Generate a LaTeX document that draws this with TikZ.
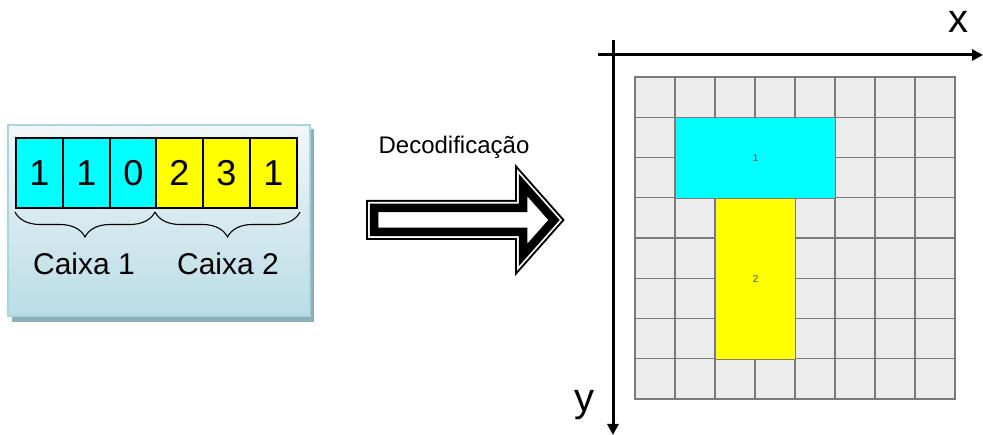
\documentclass[tikz,border=0pt]{standalone}
\usepackage{fontspec}
\setmainfont{Liberation Sans}
\usetikzlibrary{decorations.pathreplacing,arrows.meta}
\definecolor{boxtop}{HTML}{F2F6F8}
\definecolor{boxbot}{HTML}{BADDE6}
\definecolor{boxedge}{HTML}{A6D6E2}
\definecolor{boxshadow}{HTML}{8FADB6}
\definecolor{cyanc}{HTML}{00FFFF}
\definecolor{yellowc}{HTML}{FFFF00}
\definecolor{gridfill}{HTML}{ECECEC}
\definecolor{gridline}{HTML}{7A7A7A}
\tikzset{
  cell/.style={draw=black, line width=1.6pt, minimum width=47pt, minimum height=70pt, inner sep=0pt, anchor=north west, font=\fontsize{36}{36}\selectfont},
  caplabel/.style={font=\fontsize{30}{30}\selectfont, inner sep=0pt},
  gcell/.style={draw=gridline, line width=1.2pt},
  region/.style={draw=gridline, line width=1.2pt, inner sep=0pt, anchor=north west, font=\fontsize{10}{10}\selectfont, text=black!70},
  axis/.style={line width=3pt, -{Triangle[length=11pt,width=11pt]}},
  bracestyle/.style={decorate, decoration={brace, amplitude=25pt, mirror}, line width=1.1pt},
}
\begin{document}
\begin{tikzpicture}[x=1pt,y=-1pt]
\useasboundingbox (0,0) rectangle (983,435);
% left box
\fill[boxshadow] (12,129) rectangle (314,322);
\shade[top color=boxtop, bottom color=boxbot] (8,125) rectangle (310,316);
\draw[boxedge, line width=1.2pt] (8,125) rectangle (310,316);
% cells
\node[cell, fill=cyanc] (c1) at (15,137) {1};
\node[cell, fill=cyanc] (c2) at (62,137) {1};
\node[cell, fill=cyanc] (c3) at (109,137) {0};
\node[cell, fill=yellowc] (c4) at (155,137) {2};
\node[cell, fill=yellowc] (c5) at (202,137) {3};
\node[cell, fill=yellowc] (c6) at (249,137) {1};
% braces
\coordinate (b1s) at (15,212);
\coordinate (b1e) at (155,212);
\coordinate (b2e) at (300,212);
\draw[bracestyle] (b1s) -- (b1e);
\draw[bracestyle] (b1e) -- (b2e);
\node[caplabel] (k1) at (84,264) {Caixa 1};
\node[caplabel] (k2) at (228,264) {Caixa 2};
% label
\node[font=\fontsize{24}{24}\selectfont, inner sep=0pt] (dec) at (454,147) {Decodificação};
% hollow double arrow
\def\arrowpath{(374,208) -- (523,208) -- (523,185) -- (554,220) -- (523,255) -- (523,232) -- (374,232) -- cycle}
\draw[black, line width=16pt, line join=miter, miter limit=10] \arrowpath;
\draw[white, line width=12pt, line join=miter, miter limit=10] \arrowpath;
\fill[white] \arrowpath;
\draw[black, line width=8.5pt, line join=miter, miter limit=10] \arrowpath;
% grid
\foreach \i in {0,...,7}{
  \foreach \j in {0,...,7}{
    \filldraw[fill=gridfill, gcell] (635+40*\i,77+40.25*\j) rectangle ++(40,40.25);
  }
}
\node[region, fill=cyanc, minimum width=160pt, minimum height=80.5pt] (r1) at (675,117.25) {1};
\node[region, fill=yellowc, minimum width=80pt, minimum height=161pt] (r2) at (715,197.75) {2};
% axes
\coordinate (xo) at (598,55);
\coordinate (xe) at (983,55);
\coordinate (yo) at (613,40);
\coordinate (ye) at (613,435);
\draw[axis] (xo) -- (xe);
\draw[axis] (yo) -- (ye);
\node[font=\fontsize{40}{40}\selectfont, inner sep=0pt] (xl) at (958,22) {x};
\node[font=\fontsize{40}{40}\selectfont, inner sep=0pt] (yl) at (584,405) {y};
\end{tikzpicture}
\end{document}
